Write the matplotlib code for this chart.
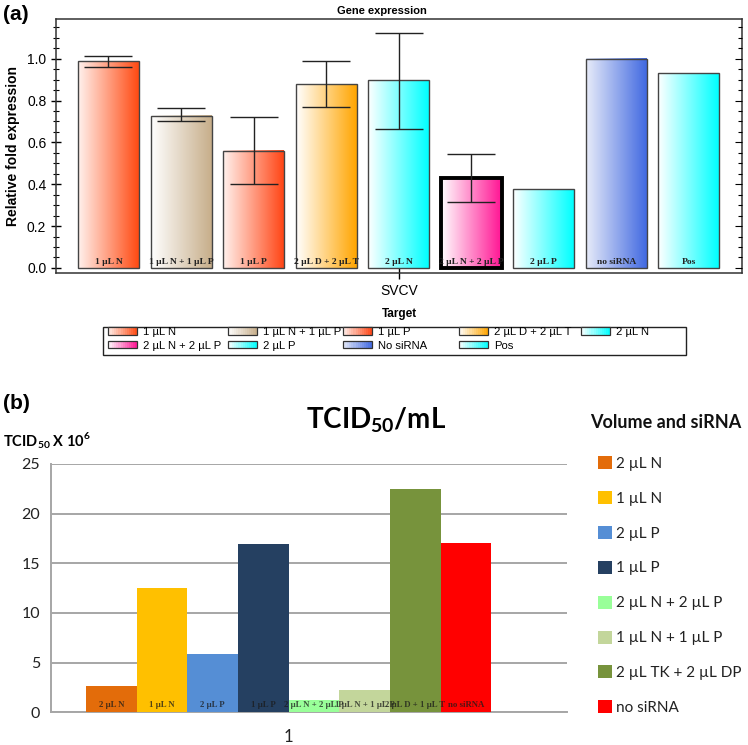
import numpy as np
import matplotlib
matplotlib.use('Agg')
import matplotlib.pyplot as plt
from matplotlib.colors import LinearSegmentedColormap, to_rgb
from matplotlib.patches import Rectangle, Patch
from matplotlib.legend_handler import HandlerBase

plt.rcParams['font.family'] = ['Liberation Sans', 'DejaVu Sans']
plt.rcParams['mathtext.fontset'] = 'custom'
plt.rcParams['mathtext.rm'] = 'Lato'
plt.rcParams['mathtext.bf'] = 'Lato:bold'

# panel (a) data
bar_labels_a = ['1 µL N', '1 µL N + 1 µL P', '1 µL P', '2 µL D + 2 µL T', '2 µL N',
                '2 µL N + 2 µL P', '2 µL P', 'no siRNA', 'Pos']
legend_labels_a = ['1 µL N', '1 µL N + 1 µL P', '1 µL P', '2 µL D + 2 µL T', '2 µL N',
                   '2 µL N + 2 µL P', '2 µL P', 'No siRNA', 'Pos']
expr = [0.987, 0.728, 0.561, 0.879, 0.897, 0.432, 0.375, 1.0, 0.931]
err_low = [0.025, 0.028, 0.159, 0.111, 0.231, 0.116, np.nan, np.nan, np.nan]
err_high = [0.026, 0.037, 0.161, 0.108, 0.228, 0.112, np.nan, np.nan, np.nan]
grad_start = ['#FFF2EE', '#FFFFFF', '#FFF2EE', '#FFFFFF', '#FFFFFF', '#FFFFFF', '#FFFFFF', '#E8ECF9', '#FFFFFF']
grad_end = ['#FF4A12', '#C7AE8A', '#FF4515', '#FFA500', '#00FFFF', '#FF1493', '#00FFFF', '#4169E1', '#00FFFF']

# panel (b) data
legend_labels_b = ['2 µL N', '1 µL N', '2 µL P', '1 µL P', '2 µL N + 2 µL P',
                   '1 µL N + 1 µL P', '2 µL TK + 2 µL DP', 'no siRNA']
bar_labels_b = ['2 µL N', '1 µL N', '2 µL P', '1 µL P', '2 µL N + 2 µL P',
                '1 µL N + 1 µL P', '2 µL D + 1 µL T', 'no siRNA']
tcid = [2.68, 12.55, 5.9, 16.95, 1.2, 2.2, 22.5, 17.0]
colors_b = ['#E36C0A', '#FFC000', '#558ED5', '#254061', '#99FF99', '#C3D69B', '#77933C', '#FF0000']


class GradHandler(HandlerBase):
    def create_artists(self, legend, orig_handle, xdescent, ydescent, width, height, fontsize, trans):
        c0 = np.array(to_rgb(orig_handle.c0))
        c1 = np.array(to_rgb(orig_handle.c1))
        n = 14
        arts = []
        for i in range(n):
            t = (i + 0.5) / n
            arts.append(Rectangle((-xdescent + i * width / n, -ydescent), width / n, height,
                                  facecolor=c0 + (c1 - c0) * t, edgecolor='none', transform=trans))
        arts.append(Rectangle((-xdescent, -ydescent), width, height, facecolor='none',
                              edgecolor='#333333', lw=0.9, transform=trans))
        return arts


fig = plt.figure(figsize=(7.48, 7.45), dpi=100)

# ---------------- panel (a) ----------------
ax = fig.add_axes([0.0749, 0.6336, 0.917, 0.341])
x = np.arange(len(expr))
w = 0.84
for i in x:
    cmap = LinearSegmentedColormap.from_list('g%d' % i, [grad_start[i], grad_end[i]])
    ax.imshow(np.linspace(0, 1, 256).reshape(1, -1), cmap=cmap, aspect='auto',
              extent=[i - w / 2, i + w / 2, 0, expr[i]], zorder=2)
edge_w = [1.0] * len(expr)
edge_w[5] = 2.8
edge_c = ['#444444'] * len(expr)
edge_c[5] = '#000000'
ax.bar(x, expr, w, facecolor='none', edgecolor=edge_c, linewidth=edge_w, zorder=3)
ax.errorbar(x, expr, yerr=[err_low, err_high], fmt='none', ecolor='#222222',
            elinewidth=1.0, capsize=17, capthick=1.0, zorder=4)
for i in x:
    ax.text(i, 0.008, bar_labels_a[i], ha='center', va='bottom', fontsize=6.8,
            family='Liberation Serif', fontweight='bold', color='#222222', zorder=5)

ax.set_xlim(-0.723, 8.73)
ax.set_ylim(-0.024, 1.19)
ax.set_yticks(np.arange(0, 1.01, 0.2))
ax.set_yticklabels(['%.1f' % v for v in np.arange(0, 1.01, 0.2)], fontsize=10)
ax.set_yticks(np.arange(0, 1.19, 0.05), minor=True)
ax.tick_params(axis='y', which='major', direction='inout', length=7, width=1)
ax.tick_params(axis='y', which='minor', direction='inout', length=4, width=0.8)
ax.set_xticks([4])
ax.set_xticklabels(['SVCV'], fontsize=10)
ax.tick_params(axis='x', direction='inout', length=8, width=1, pad=4)
ax.set_xlabel('Target', fontsize=8.5, fontweight='bold', labelpad=7)
ax.set_ylabel('Relative fold expression', fontsize=10, fontweight='bold', labelpad=5)
for s in ax.spines.values():
    s.set_color('#333333')
    s.set_linewidth(1.1)

ax2 = ax.twinx()
ax2.set_ylim(-0.024, 1.19)
ax2.set_yticks(np.arange(0, 1.01, 0.2))
ax2.set_yticks(np.arange(0, 1.19, 0.05), minor=True)
ax2.tick_params(axis='y', which='major', direction='in', length=5, labelright=False)
ax2.tick_params(axis='y', which='minor', direction='in', length=3, width=0.8)
for s in ax2.spines.values():
    s.set_visible(False)

# legend (a): five fixed-width columns inside one frame
handles = []
for i in range(len(expr)):
    h = Patch(label=legend_labels_a[i])
    h.c0 = grad_start[i]
    h.c1 = grad_end[i]
    handles.append(h)
col_x = [108, 228, 343, 459, 581]
columns = [[0, 5], [1, 6], [2, 7], [3, 8], [4]]
for cx, idx in zip(col_x, columns):
    lg = fig.legend([handles[k] for k in idx], [legend_labels_a[k] for k in idx],
                    handler_map={handles[k]: GradHandler() for k in idx},
                    loc='upper left', bbox_to_anchor=(cx / 748, 1 - 327 / 745), fontsize=8.1,
                    handlelength=2.6, handleheight=0.6, handletextpad=0.55,
                    labelspacing=0.32, borderpad=0, borderaxespad=0, frameon=False)
fig.add_artist(Rectangle((103 / 748, 1 - 355 / 745), (686 - 103) / 748, 28 / 745,
                         transform=fig.transFigure, facecolor='none', edgecolor='#222222', lw=1.0))

fig.text(0.51, 0.992, 'Gene expression', ha='center', va='top', fontsize=8, fontweight='bold')
fig.text(0.004, 0.981, '(a)', ha='left', va='center', fontsize=15, fontweight='bold')

# ---------------- panel (b) ----------------
bx = fig.add_axes([0.0682, 0.0439, 0.690, 0.3333])
xb = np.arange(len(tcid))
for i in xb:
    bx.bar(xb[i], tcid[i], 1.0, color=colors_b[i], label=legend_labels_b[i], zorder=3)
    bx.text(xb[i], 0.3, bar_labels_b[i], ha='center', va='bottom', fontsize=6.3,
            family='Liberation Serif', fontweight='bold', color='#1a1a1a', alpha=0.75, zorder=4)
bx.set_xlim(-1.19, 9.0)
bx.set_ylim(0, 25)
bx.set_yticks(np.arange(0, 26, 5))
bx.set_yticklabels([str(v) for v in range(0, 26, 5)], fontsize=11.5, family='Lato', color='#222222')
bx.set_xticks([3.5])
bx.set_xticklabels(['1'], fontsize=12, family='Lato', color='#222222')
bx.tick_params(axis='y', length=0, pad=8)
bx.tick_params(axis='x', length=0, pad=12)
bx.yaxis.grid(True, color='#A6A6A6', linewidth=1.4, zorder=0)
bx.set_axisbelow(True)
for s in ['top', 'right']:
    bx.spines[s].set_visible(False)
for s in ['left', 'bottom']:
    bx.spines[s].set_color('#A6A6A6')
    bx.spines[s].set_linewidth(1.4)

fig.text(0.503, 0.436, 'TCID$_{\\mathbf{50}}$/mL', ha='center', va='center', fontsize=20,
         family='Lato', fontweight='bold')
fig.text(0.004, 0.409, 'TCID$_{\\mathbf{50}}$ X 10$^{\\mathbf{6}}$', ha='left', va='center',
         fontsize=10.5, family='Lato', fontweight='bold')
fig.text(0.004, 0.459, '(b)', ha='left', va='center', fontsize=15, fontweight='bold')
fig.text(590 / 748, 1 - 422 / 745, 'Volume and siRNA', ha='left', va='center',
         fontsize=13, family='Lato', fontweight='bold', color='#111111')

hb, lb = bx.get_legend_handles_labels()
legb = fig.legend(hb, lb, loc='upper left', bbox_to_anchor=(598 / 748, 1 - 456 / 745), frameon=False,
                  prop={'family': 'Lato', 'size': 11},
                  handlelength=0.93, handleheight=0.93, handletextpad=0.25,
                  labelspacing=1.32, borderaxespad=0, borderpad=0)
for t in legb.get_texts():
    t.set_color('#222222')

plt.savefig('out.png', dpi=100)
